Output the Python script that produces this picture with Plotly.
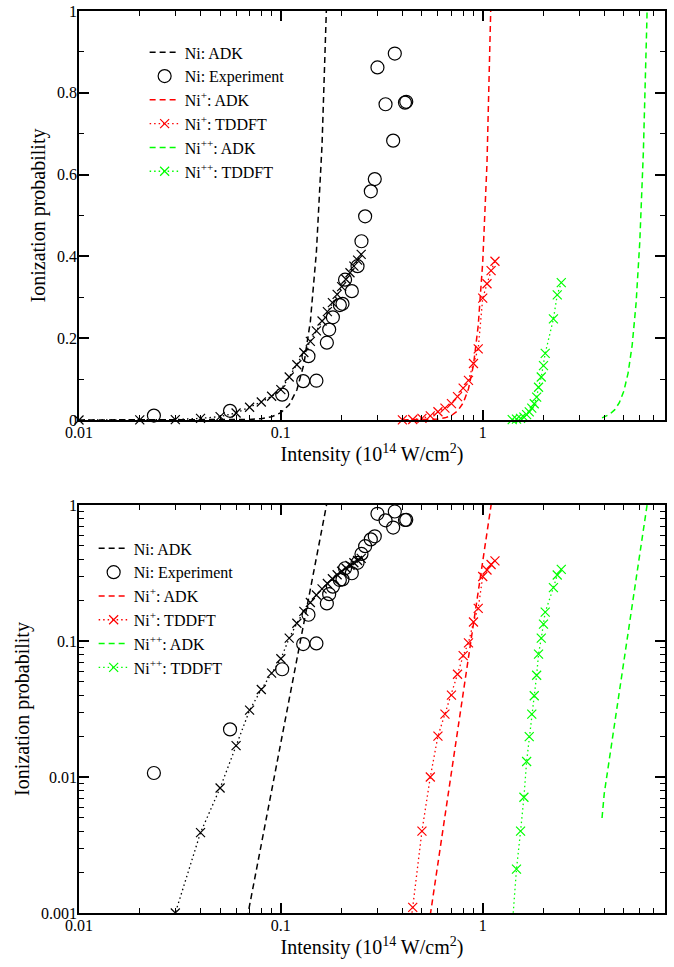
import plotly.graph_objects as go

# ---------------- data ----------------
# Ni: ADK (dashed black)
ni_adk_x = [0.01, 0.03, 0.05, 0.06, 0.07, 0.08, 0.09, 0.10, 0.11, 0.12, 0.13, 0.14, 0.15, 0.16, 0.17]
ni_adk_y = [3.4e-10, 1.6e-6, 8.4e-5, 3.45e-4, 1.13e-3, 3.18e-3, 7.9e-3, 0.0178, 0.0374, 0.0733,
            0.136, 0.241, 0.411, 0.674, 1.08]

# Ni: TDDFT (black x, dotted, not in legend)
ni_tddft_x = [0.01, 0.02, 0.03, 0.04, 0.05, 0.06, 0.07, 0.08, 0.09, 0.10, 0.11, 0.12, 0.13,
              0.14, 0.15, 0.16, 0.17, 0.18, 0.19, 0.20, 0.21, 0.22, 0.23, 0.24, 0.25]
ni_tddft_y = [0.00002, 0.0003, 0.001, 0.0039, 0.0083, 0.017, 0.031, 0.044, 0.058, 0.074, 0.105,
              0.135, 0.165, 0.192, 0.218, 0.242, 0.265, 0.287, 0.307, 0.326, 0.344, 0.36, 0.376,
              0.391, 0.405]

# Ni: Experiment (open circles)
exp_x = [0.0235, 0.056, 0.1015, 0.129, 0.150, 0.137, 0.169, 0.1735, 0.181, 0.196, 0.202, 0.208,
         0.2247, 0.2398, 0.2508, 0.2615, 0.279, 0.2919, 0.301, 0.330, 0.36, 0.3668, 0.412, 0.418]
exp_y = [0.0107, 0.0224, 0.062, 0.095, 0.096, 0.156, 0.189, 0.221, 0.251, 0.281, 0.284, 0.343,
         0.315, 0.376, 0.437, 0.498, 0.559, 0.589, 0.862, 0.772, 0.683, 0.896, 0.776, 0.778]

# Ni+: ADK (dashed red)
nip_adk_x = [0.4, 0.5, 0.55, 0.6, 0.65, 0.7, 0.75, 0.8, 0.85, 0.9, 0.95, 1.0, 1.05, 1.1, 1.12]
nip_adk_y = [4.0e-5, 3.8e-4, 9.8e-4, 2.33e-3, 5.2e-3, 0.0109, 0.0217, 0.0414, 0.076, 0.1344,
             0.2309, 0.3856, 0.628, 1.0, 1.197]

# Ni+: TDDFT (red x, dotted)
nip_tddft_x = [0.40, 0.45, 0.50, 0.55, 0.60, 0.65, 0.70, 0.75, 0.80, 0.85, 0.90, 0.95, 1.00,
               1.05, 1.10, 1.15]
nip_tddft_y = [0.0003, 0.0011, 0.004, 0.010, 0.020, 0.029, 0.040, 0.057, 0.078, 0.097, 0.138,
               0.174, 0.298, 0.333, 0.365, 0.388]

# Ni++: ADK (dashed green)
nipp_adk_x = [3.9, 4.0, 4.25, 4.5, 4.75, 5.0, 5.25, 5.5, 5.75, 6.0, 6.25, 6.5, 6.6]
nipp_adk_y = [0.005, 0.00756, 0.01387, 0.02456, 0.0422, 0.0704, 0.1147, 0.1827, 0.285, 0.436,
              0.656, 0.971, 1.13]

# Ni++: TDDFT (green x, dotted)
nipp_tddft_x = [1.4, 1.47, 1.54, 1.6, 1.65, 1.7, 1.75, 1.8, 1.85, 1.89, 1.95, 2.0, 2.04, 2.24,
                2.34, 2.45]
nipp_tddft_y = [0.0008, 0.0021, 0.004, 0.0071, 0.013, 0.0198, 0.029, 0.0396, 0.056, 0.080, 0.105,
                0.133, 0.163, 0.247, 0.306, 0.336]

# ticks
x_major = [0.01, 0.1, 1]
x_major_text = ["0.01", "0.1", "1"]
x_minor = [0.02, 0.03, 0.04, 0.05, 0.06, 0.07, 0.08, 0.09,
           0.2, 0.3, 0.4, 0.5, 0.6, 0.7, 0.8, 0.9,
           2, 3, 4, 5, 6, 7, 8]
ylin_major = [0, 0.2, 0.4, 0.6, 0.8, 1]
ylin_major_text = ["0", "0.2", "0.4", "0.6", "0.8", "1"]
ylin_minor = [0.1, 0.3, 0.5, 0.7, 0.9]
ylog_major = [0.001, 0.01, 0.1, 1]
ylog_major_text = ["0.001", "0.01", "0.1", "1"]
ylog_minor = [0.002, 0.003, 0.004, 0.005, 0.006, 0.007, 0.008, 0.009,
              0.02, 0.03, 0.04, 0.05, 0.06, 0.07, 0.08, 0.09,
              0.2, 0.3, 0.4, 0.5, 0.6, 0.7, 0.8, 0.9]

# ---------------- styling ----------------
FONT = "Liberation Serif"
BLACK = "#000000"
RED = "#ff0000"
GREEN = "#00ff00"
DASH = "6px,4px"
DOT = "1.5px,3px"

series = [
    dict(name="Ni: ADK", x=ni_adk_x, y=ni_adk_y, color=BLACK, kind="adk", legend=True),
    dict(name="Ni: Experiment", x=exp_x, y=exp_y, color=BLACK, kind="exp", legend=True),
    dict(name="Ni<sup>+</sup>: ADK", x=nip_adk_x, y=nip_adk_y, color=RED, kind="adk", legend=True),
    dict(name="Ni<sup>+</sup>: TDDFT", x=nip_tddft_x, y=nip_tddft_y, color=RED, kind="tddft", legend=True),
    dict(name="Ni<sup>++</sup>: ADK", x=nipp_adk_x, y=nipp_adk_y, color=GREEN, kind="adk", legend=True),
    dict(name="Ni<sup>++</sup>: TDDFT", x=nipp_tddft_x, y=nipp_tddft_y, color=GREEN, kind="tddft", legend=True),
    dict(name="Ni: TDDFT", x=ni_tddft_x, y=ni_tddft_y, color=BLACK, kind="tddft", legend=False),
]

fig = go.Figure()
for panel, (xa, ya, lg, clip) in enumerate([("x", "y", "legend", False), ("x2", "y2", "legend2", True)]):
    for s in series:
        kw = dict(x=s["x"], y=s["y"], name=s["name"], xaxis=xa, yaxis=ya, legend=lg,
                  showlegend=s["legend"], cliponaxis=clip)
        if s["kind"] == "adk":
            kw.update(mode="lines", line=dict(color=s["color"], width=1.5, dash=DASH), cliponaxis=True)
        elif s["kind"] == "exp":
            kw.update(mode="markers",
                      marker=dict(symbol="circle-open", size=13, color=s["color"],
                                  line=dict(width=1.2, color=s["color"])))
        else:
            kw.update(mode="lines+markers", line=dict(color=s["color"], width=1.3, dash=DOT),
                      marker=dict(symbol="x-thin", size=9, color=s["color"],
                                  line=dict(width=1.2, color=s["color"])))
        fig.add_trace(go.Scatter(**kw))

axis_common = dict(showline=True, linecolor=BLACK, linewidth=1.5, mirror="allticks",
                   ticks="inside", ticklen=10, tickwidth=1.5, tickcolor=BLACK,
                   showgrid=False, zeroline=False, automargin=False, ticklabeloverflow="allow",
                   tickfont=dict(family=FONT, size=16, color=BLACK))
minor_common = dict(ticks="inside", ticklen=5, tickwidth=1.2, tickcolor=BLACK, showgrid=False)

xtitle = dict(text="Intensity (10<sup>14</sup> W/cm<sup>2</sup>)", standoff=0,
              font=dict(family=FONT, size=20, color=BLACK))
ytitle = dict(text="Ionization probability", standoff=6, font=dict(family=FONT, size=20, color=BLACK))

fig.update_layout(
    template="none",
    width=674, height=967,
    margin=dict(l=79, r=9, t=11, b=54),
    paper_bgcolor="white", plot_bgcolor="white",
    font=dict(family=FONT, size=16, color=BLACK),
    xaxis=dict(type="log", range=[-2, 0.903], domain=[0, 1], anchor="y",
               tickmode="array", tickvals=x_major, ticktext=x_major_text, ticklabelstandoff=-3,
               minor=dict(tickmode="array", tickvals=x_minor, **minor_common),
               title=xtitle, **axis_common),
    yaxis=dict(range=[0, 1], domain=[0.5466, 1], anchor="x",
               tickmode="array", tickvals=ylin_major, ticktext=ylin_major_text, ticklabelstandoff=-3,
               minor=dict(tickmode="array", tickvals=ylin_minor, **minor_common),
               title=ytitle, **axis_common),
    xaxis2=dict(type="log", range=[-2, 0.903], domain=[0, 1], anchor="y2",
                tickmode="array", tickvals=x_major, ticktext=x_major_text, ticklabelstandoff=-3,
                minor=dict(tickmode="array", tickvals=x_minor, **minor_common),
                title=xtitle, **axis_common),
    yaxis2=dict(type="log", range=[-3, 0], domain=[0, 0.4523], anchor="x2",
                tickmode="array", tickvals=ylog_major, ticktext=ylog_major_text, ticklabelstandoff=-3,
                minor=dict(tickmode="array", tickvals=ylog_minor, **minor_common),
                title=ytitle, **axis_common),
    legend=dict(x=0.112, y=0.973, xanchor="left", yanchor="top", bgcolor="rgba(0,0,0,0)",
                font=dict(family=FONT, size=16, color=BLACK), tracegroupgap=0),
    legend2=dict(x=0.025, y=0.423, xanchor="left", yanchor="top", bgcolor="rgba(0,0,0,0)",
                 font=dict(family=FONT, size=16, color=BLACK), tracegroupgap=0),
)

# remove the browser's default 8px body margin so the figure fills the window exactly
fig.write_html("out.html", config={"displayModeBar": False},
               post_script="document.body.style.margin='0';")
